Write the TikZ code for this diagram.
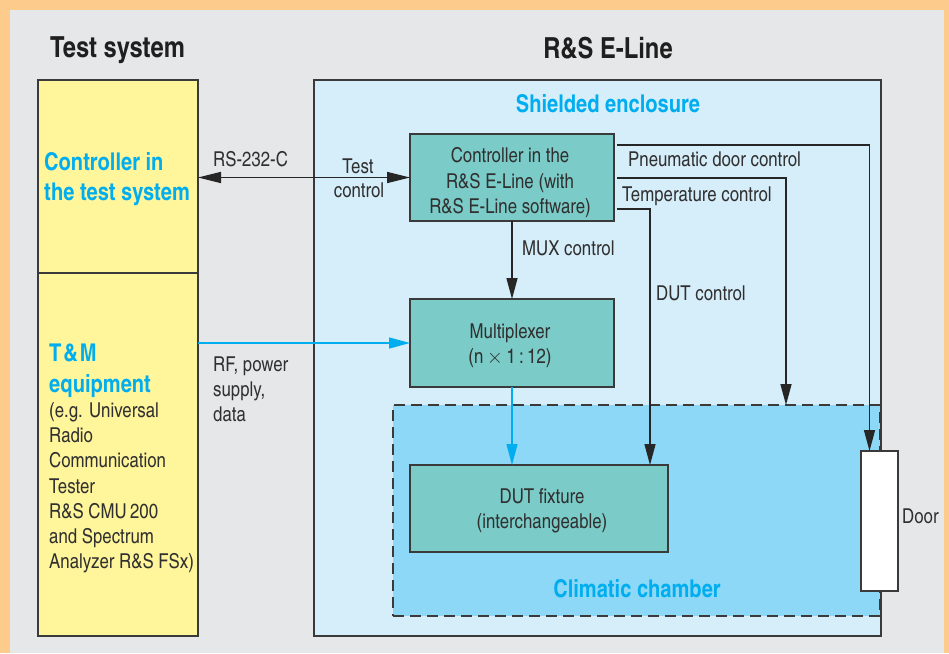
\documentclass[tikz,border=0pt]{standalone}
\usepackage{fontspec}
\setmainfont{texgyreheroscn-regular.otf}[BoldFont=texgyreheroscn-bold.otf]
\usetikzlibrary{arrows.meta}
\definecolor{orangebg}{RGB}{253,204,140}
\definecolor{graybg}{RGB}{230,231,233}
\definecolor{yel}{RGB}{255,245,155}
\definecolor{encl}{RGB}{214,237,250}
\definecolor{tealbox}{RGB}{123,204,200}
\definecolor{clim}{RGB}{141,216,246}
\definecolor{cyanT}{RGB}{0,174,239}
\definecolor{txt}{RGB}{48,48,48}
\definecolor{edge}{RGB}{58,58,58}
\begin{document}
\begin{tikzpicture}[x=1pt,y=-1pt,
  box/.style={draw=edge, line width=1.3pt, rectangle, inner sep=0pt, outer sep=0pt, anchor=north west},
  body/.style={font=\fontsize{20.5}{25.5}\selectfont, text=txt, inner sep=0pt},
  blab/.style={font=\fontsize{24.5}{30}\selectfont\bfseries, text=cyanT, inner sep=0pt},
  ttl/.style={font=\fontsize{29}{34}\selectfont\bfseries, text=black!88, inner sep=0pt},
  conn/.style={draw=black!85, line width=1.4pt, -{Triangle[length=21pt,width=11pt]}},
  rfconn/.style={draw=cyanT, line width=1.2pt, -{Triangle[length=21pt,width=11pt]}},
]
\useasboundingbox (0,0) rectangle (949,653);
\fill[orangebg] (0,0) rectangle (949,653);
\fill[graybg] (10,10) rectangle (944,653);

% boxes
\node[box, fill=yel, minimum width=160pt, minimum height=193pt] (ctrlts) at (38,80) {};
\node[box, fill=yel, minimum width=160pt, minimum height=363pt] (tm) at (38,273) {};
\node[box, fill=encl, minimum width=567pt, minimum height=556pt] (encl) at (314,80) {};
\node[box, fill=clim, dash pattern=on 11pt off 6pt, minimum width=487pt, minimum height=211pt] (chamber) at (393,405) {};
\node[box, fill=tealbox, minimum width=204pt, minimum height=87pt] (ctrl) at (410,134) {};
\node[box, fill=tealbox, minimum width=204pt, minimum height=88pt] (mux) at (410,299) {};
\node[box, fill=tealbox, minimum width=258pt, minimum height=87pt] (dut) at (410,465) {};
\node[box, fill=white, minimum width=37pt, minimum height=140pt] (door) at (861,451) {};

% connectors
\coordinate (tempin) at (786,405);
\draw[conn, {Triangle[length=23pt,width=11pt]}-{Triangle[length=23pt,width=11pt]}] (ctrlts.east |- ctrl.west) -- (ctrl.west);
\draw[conn] ([xshift=3pt,yshift=-11pt]ctrl.north east) -| ([xshift=-10pt]door.north);
\draw[conn] ([xshift=3pt,yshift=-44pt]ctrl.north east) -| (tempin);
\draw[conn] ([xshift=3pt,yshift=-75pt]ctrl.north east) -| ([xshift=240pt]dut.north west);
\draw[conn] (ctrl.south) -- (mux.north);
\draw[rfconn] (tm.east |- mux.west) -- (mux.west);
\draw[rfconn] (mux.south) -- (mux.south |- dut.north);

% titles
\node[ttl, anchor=base] (ttl1) at (117.5,57) {Test system};
\node[ttl, anchor=base] (ttl2) at (608,58) {R\&S E-Line};
\node[blab, anchor=base] (lse) at (608,112) {Shielded enclosure};
\node[blab, anchor=base] (lcc) at (637,597) {Climatic chamber};

% yellow column
\node[blab, anchor=base west] (lc1) at (44,170) {Controller in};
\node[blab, anchor=base west] (lc2) at (44,200) {the test system};
\node[blab, anchor=base west] (ltm1) at (49,361) {T\kern2pt\&\kern2pt M};
\node[blab, anchor=base west] (ltm2) at (49,392) {equipment};
\node[body, anchor=base west] (g1) at (49,417) {(e.g. Universal};
\node[body, anchor=base west] (g2) at (49,442) {Radio};
\node[body, anchor=base west] (g3) at (49,467) {Communication};
\node[body, anchor=base west] (g4) at (49,493) {Tester};
\node[body, anchor=base west] (g5) at (49,518) {R\&S CMU\,200};
\node[body, anchor=base west] (g6) at (49,543) {and Spectrum};
\node[body, anchor=base west] (g7) at (49,568) {Analyzer R\&S FSx)};

% connector labels
\node[body, anchor=base west] (lrs) at (213,166) {RS-232-C};
\node[body, anchor=base] (ltc1) at (358,173) {Test};
\node[body, anchor=base] (ltc2) at (359,197) {control};
\node[body, anchor=base west] (lpn) at (628,166) {Pneumatic door control};
\node[body, anchor=base west] (ltemp) at (622,201) {Temperature control};
\node[body, anchor=base west] (lmux) at (522,255) {MUX control};
\node[body, anchor=base west] (ldutc) at (656,300) {DUT control};
\node[body, anchor=base west] (lrf1) at (213,371) {RF, power};
\node[body, anchor=base west] (lrf2) at (213,396) {supply,};
\node[body, anchor=base west] (lrf3) at (213,421) {data};
\node[body, anchor=base west] (ldoor) at (902,523) {Door};

% box texts
\node[body, anchor=base] (c1) at (510,162) {Controller in the};
\node[body, anchor=base] (c2) at (510,188) {R\&S E-Line (with};
\node[body, anchor=base] (c3) at (510,213) {R\&S E-Line software)};
\node[body, anchor=base] (m1) at (510,338) {Multiplexer};
\node[body, anchor=base] (m2) at (510,363) {(n\,$\times$\,1\,:\,12)};
\node[body, anchor=base] (d1) at (542,503) {DUT fixture};
\node[body, anchor=base] (d2) at (542,528) {(interchangeable)};
\end{tikzpicture}
\end{document}
